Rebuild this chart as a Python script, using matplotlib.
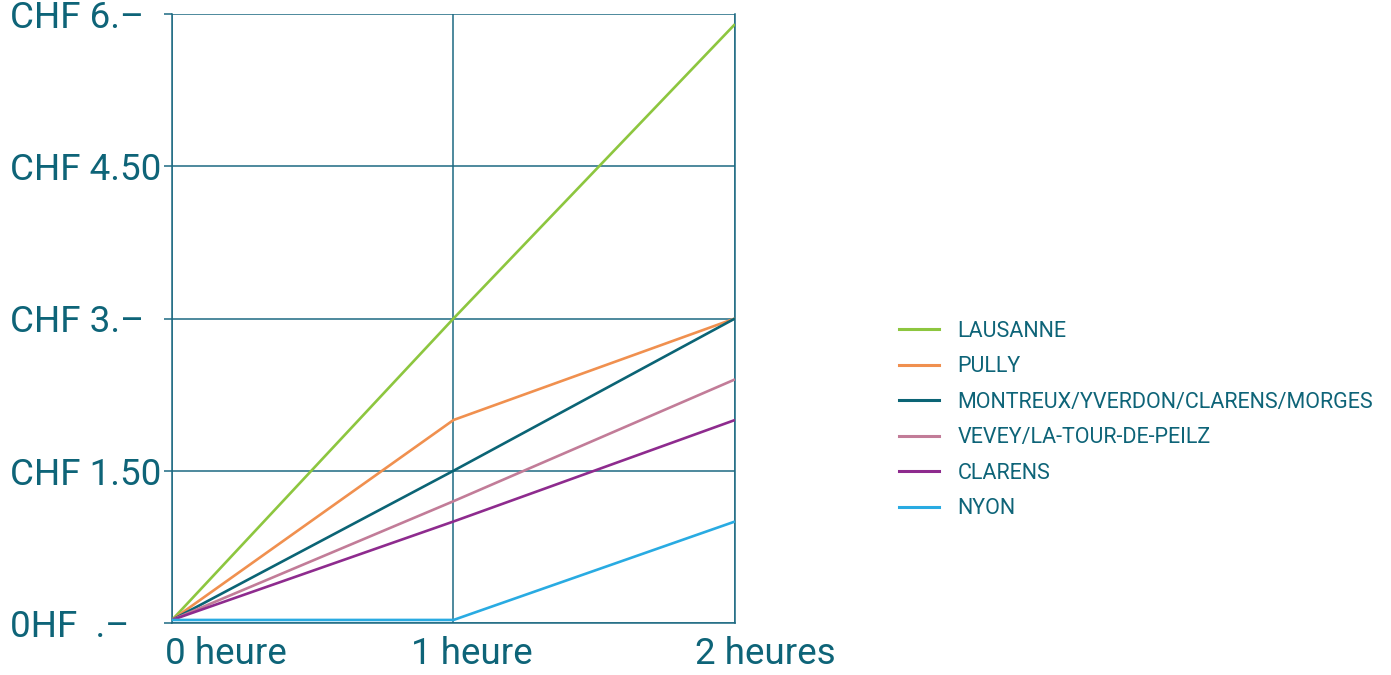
import matplotlib
matplotlib.use("Agg")
import matplotlib.pyplot as plt
import matplotlib.transforms as mtransforms
from matplotlib.lines import Line2D

# Parking fee by duration, per town
hours = [0, 1, 2]
hour_labels = ["0 heure", "1 heure", "2 heures"]
price_ticks = [0, 1.5, 3, 4.5, 6]
price_labels = ["0HF  .\u2013", "CHF 1.50", "CHF 3.\u2013", "CHF 4.50", "CHF 6.\u2013"]

towns = ["LAUSANNE", "PULLY", "MONTREUX/YVERDON/CLARENS/MORGES",
         "VEVEY/LA-TOUR-DE-PEILZ", "CLARENS", "NYON"]
lausanne = [0.03, 3.0, 5.9]
pully = [0.03, 2.0, 3.0]
montreux = [0.03, 1.5, 3.0]
vevey = [0.03, 1.2, 2.4]
clarens = [0.03, 1.0, 2.0]
nyon = [0.03, 0.03, 1.0]
series = [lausanne, pully, montreux, vevey, clarens, nyon]
colors = ["#8dc63f", "#f0904f", "#0b6475", "#c27c98", "#8e2b8e", "#29abe2"]

TEAL = "#0e6478"
GRID = "#1d6a82"
FONT = "Roboto"

fig = plt.figure(figsize=(13.91, 6.75), dpi=100)
ax = fig.add_axes([172 / 1391, 52 / 675, (735 - 172) / 1391, (623 - 14) / 675])

for vals, col in zip(series, colors):
    ax.plot(hours, vals, color=col, lw=1.9, solid_capstyle="butt", zorder=3)

ax.set_xlim(0, 2)
ax.set_ylim(0, 6)
ax.set_xticks(hours)
ax.set_xticklabels([])
ax.set_yticks(price_ticks)
ax.set_yticklabels(price_labels, ha="left", fontsize=26.5, color=TEAL, family=FONT)
ax.tick_params(axis="y", length=6, width=1.1, color=GRID, pad=111, direction="out")
ax.tick_params(axis="x", length=0)
shift_down = mtransforms.ScaledTranslation(0, -4 / 100, fig.dpi_scale_trans)
for lab in ax.get_yticklabels():
    lab.set_va("center")
    lab.set_transform(lab.get_transform() + shift_down)
ax.grid(True, color=GRID, lw=1.1, zorder=1)
for sp in ax.spines.values():
    sp.set_color(GRID)
    sp.set_linewidth(1.1)
ax.spines["top"].set_visible(False)

# hour labels under the axis
x_offsets = [-7, -42, -40]
for h, lab, dx in zip(hours, hour_labels, x_offsets):
    ax.annotate(lab, xy=(h, 0), xycoords="data", xytext=(dx * 0.72, -9),
                textcoords="offset points", ha="left", va="top",
                fontsize=26.5, color=TEAL, family=FONT)

handles = [Line2D([0], [0], color=c, lw=2.2) for c in colors]
leg = fig.legend(handles, towns, loc="center left",
                 bbox_to_anchor=(880 / 1391, (675 - 420) / 675),
                 frameon=False, handlelength=1.86, handletextpad=0.84,
                 labelspacing=0.67, prop={"family": FONT, "size": 15.5})
for t in leg.get_texts():
    t.set_color(TEAL)

fig.savefig("out.png", dpi=100)
